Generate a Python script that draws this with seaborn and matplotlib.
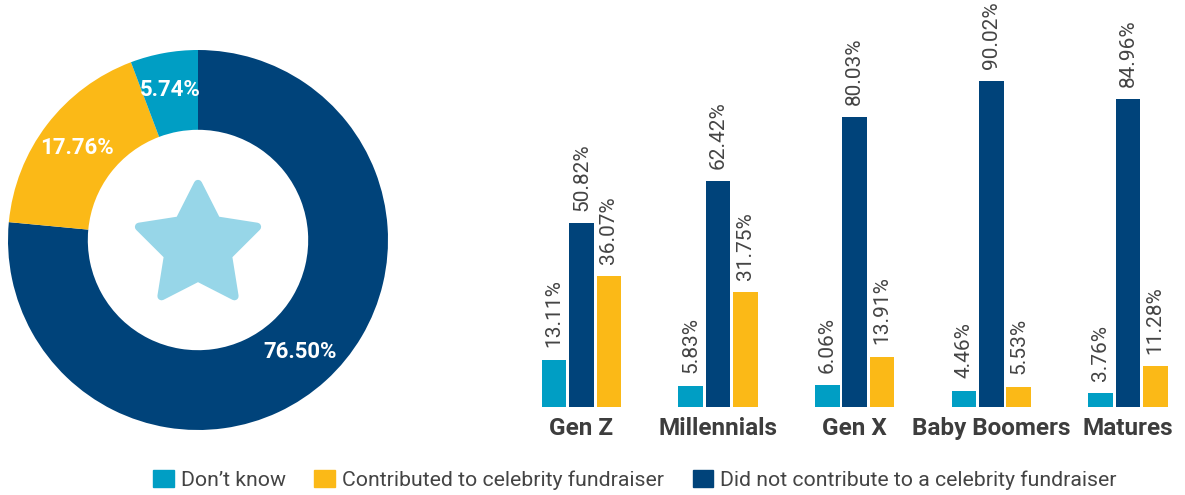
import numpy as np
import pandas as pd
import matplotlib
matplotlib.use("Agg")
import matplotlib.pyplot as plt
import seaborn as sns
from matplotlib.patches import Patch, Polygon

# ---- data ----
generations = ["Gen Z", "Millennials", "Gen X", "Baby Boomers", "Matures"]
dont_know = [13.11, 5.83, 6.06, 4.46, 3.76]
did_not_contribute = [50.82, 62.42, 80.03, 90.02, 84.96]
contributed = [36.07, 31.75, 13.91, 5.53, 11.28]

overall_names = ["Did not contribute to a celebrity fundraiser",
                 "Contributed to celebrity fundraiser", "Don’t know"]
overall_values = [76.50, 17.76, 5.74]

name_dk = "Don’t know"
name_con = "Contributed to celebrity fundraiser"
name_not = "Did not contribute to a celebrity fundraiser"

TEAL = "#009EC4"
NAVY = "#00437A"
YELLOW = "#FBB917"
STAR = "#97D6E8"
TXT = "#444444"

sns.set_theme(style="white")
plt.rcParams["font.family"] = ["Roboto", "DejaVu Sans"]

W, H = 1185, 495
fig = plt.figure(figsize=(W / 100, H / 100), dpi=100)

# ---- donut ----
cx, cy, R = 198, 240, 190
ax_p = fig.add_axes([(cx - R) / W, (H - cy - R) / H, 2 * R / W, 2 * R / H])
wedges, _, autotexts = ax_p.pie(
    overall_values, colors=[NAVY, YELLOW, TEAL], startangle=90, counterclock=False,
    wedgeprops=dict(width=0.42, edgecolor="none"),
    autopct=lambda p: f"{p:.2f}%", pctdistance=0.80,
    textprops=dict(color="white", fontweight="bold", fontsize=16))
ax_p.set_xlim(-1, 1)
ax_p.set_ylim(-1, 1)
ax_p.set_aspect("equal")
ax_p.axis("off")

# star decoration in the hole
Ro, Ri = 62 / R, 31.5 / R
sc = -6 / R
ang = np.pi / 2 + np.arange(10) * np.pi / 5
rad = np.where(np.arange(10) % 2 == 0, Ro, Ri)
verts = np.column_stack([rad * np.cos(ang), sc + rad * np.sin(ang)])
ax_p.add_patch(Polygon(verts, closed=True, facecolor=STAR, edgecolor=STAR,
                       linewidth=6, joinstyle="round"))

# ---- grouped bars ----
df = pd.DataFrame({
    "gen": generations * 3,
    "series": [name_dk] * 5 + [name_not] * 5 + [name_con] * 5,
    "value": dont_know + did_not_contribute + contributed,
})
step = 136.6
x0 = 581.5
xl, xr = -0.5, 4.4
base_y = 407
ppu = 3.62
ax = fig.add_axes([(x0 + xl * step) / W, (H - base_y) / H,
                   (xr - xl) * step / W, base_y / H])
sns.barplot(data=df, x="gen", y="value", hue="series",
            hue_order=[name_dk, name_not, name_con],
            palette=[TEAL, NAVY, YELLOW], saturation=1,
            width=0.6, gap=0.1, legend=False, ax=ax, edgecolor="none")
ax.set_xlim(xl, xr)
ax.set_ylim(0, base_y / ppu)
for cont in ax.containers:
    ax.bar_label(cont, labels=[f"{b.get_height():.2f}%" for b in cont],
                 rotation=90, padding=9, fontsize=15, color=TXT)
sns.despine(ax=ax, left=True, bottom=True)
ax.set_yticks([])
ax.set_xlabel("")
ax.set_ylabel("")
ax.tick_params(axis="x", length=0, pad=7)
for t in ax.get_xticklabels():
    t.set_fontweight("bold")
    t.set_fontsize(17.5)
    t.set_color("#3d3d3d")

# ---- legend ----
handles = [Patch(color=TEAL, label=name_dk), Patch(color=YELLOW, label=name_con),
           Patch(color=NAVY, label=name_not)]
fig.legend(handles=handles, loc="center", bbox_to_anchor=(635 / W, 15 / H),
           ncol=3, frameon=False, fontsize=15.3, handlelength=0.96,
           handleheight=0.8, handletextpad=0.34, columnspacing=1.35,
           labelcolor=TXT, borderpad=0)

fig.savefig("out.png", dpi=100)
